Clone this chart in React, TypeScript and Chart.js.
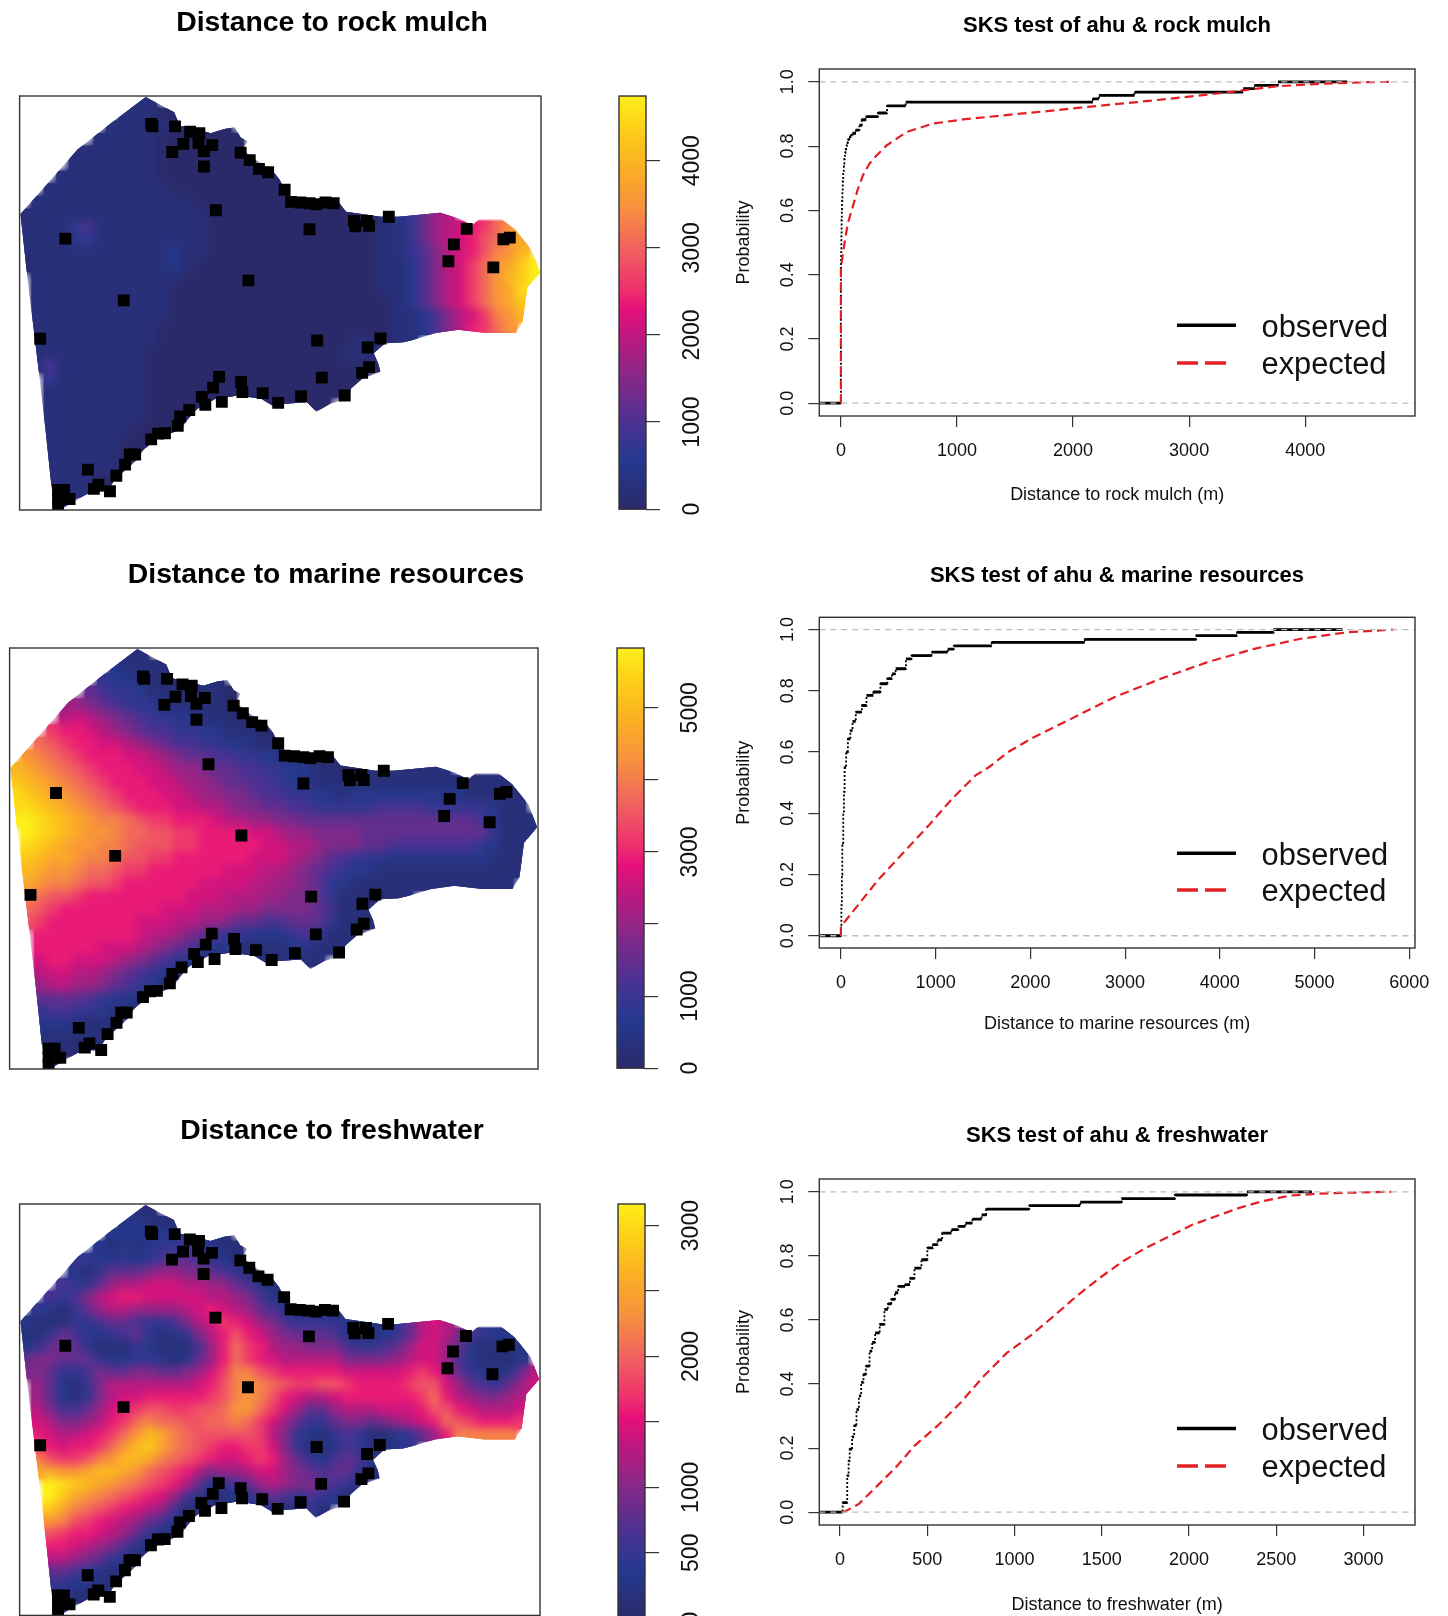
import React, { useEffect, useRef } from "react";
import { Chart, registerables } from "chart.js";

Chart.register(...registerables);

const FONT = "'Liberation Sans', Arial, sans-serif";
const INK = "#333333";

// ---------- colour bar ----------
const rampStops = [0, 0.118, 0.21, 0.33, 0.42, 0.483, 0.53, 0.63, 0.73, 0.835, 0.93, 1];
const rampColors = ["#2a2a6b", "#25398f", "#4c3192", "#8c2786", "#c0177f", "#e6107a", "#ee2f6e", "#f0625f", "#f7903f", "#fbb222", "#fdd317", "#fdee1a"];

// ---------- rasters: each character is a level 0..k (base 36), a twentieth of the colour range ----------
const gridCols = 42;
const gridRows = 33;
const rowStart = [9, 8, 7, 6, 4, 4, 3, 2, 1, 0, 0, 0, 0, 0, 1, 1, 1, 1, 1, 1, 1, 1, 2, 2, 2, 2, 2, 2, 2, 2, 2, 3, 3];

const rockRows = [
  "11",
  "11100",
  "1111100000",
  "111110000000",
  "11111110000000",
  "111111100000000",
  "111111110000000000",
  "11111111110000000000",
  "1111111111111000000000000",
  "1111111111" + "1111100000" + "0000000001" + "23578",
  "1111341111" + "1111100000" + "0000000001" + "135789abdf",
  "1111231111" + "1111100000" + "0000000001" + "135789acdf" + "g",
  "1111111111" + "1121100000" + "0000000001" + "134689acef" + "h",
  "0111111111" + "1121000000" + "0000000001" + "124689bdfg" + "ik",
  "111111111" + "1110000000" + "0000000001" + "124689bdfh" + "ik",
  "111111111" + "1100000000" + "0000000001" + "124689bdfg" + "j",
  "111111111" + "1100000000" + "0000000000" + "124689bdfg" + "i",
  "111111111" + "1100000000" + "0000000000" + "1124689bef" + "h",
  "111111111" + "1000000000" + "0000000000" + "112468abdf",
  "111111111" + "1000000000" + "0000000100" + "11",
  "111111111" + "0000000000" + "000000111",
  "141111111" + "0000000000" + "000000000",
  "31111111" + "0000000000" + "00000000",
  "11111111" + "0000000000" + "0000000",
  "11111111" + "0000000000" + "00000",
  "11111111" + "0000",
  "11111110" + "000",
  "111111000",
  "11111100",
  "1111110",
  "111100",
  "1110",
  "1",
];

const marineRows = [
  "11",
  "21111",
  "3221100011",
  "543321110110",
  "77654332111110",
  "898765433221110",
  "baa987654433221110",
  "dcbaa99876" + "5443322110",
  "fedcbaaa99" + "8765544332" + "21100",
  "hgfedcbaaa" + "9987765544" + "3322110011" + "11111",
  "ihgfedcbaa" + "a998776554" + "4322111111" + "1111111111",
  "jihgfedcba" + "aa99877665" + "4433221222" + "22222211111",
  "jjihgfedcb" + "aaa9988766" + "5544333334" + "44433333211",
  "kkjihgfeed" + "cbbaaa9887" + "7665555555" + "5555555421" + "11",
  "kjihgffed" + "dccbbaaaa9" + "9877666655" + "5555555531" + "11",
  "jihgffeed" + "cccbbaaaaa" + "9988766655" + "4444444321" + "1",
  "ihggfeedc" + "cbbaaaaaa9" + "9987654332" + "2222222211" + "1",
  "hgffeddcb" + "baaaaaa999" + "8876543221" + "1111111111" + "1",
  "gfeedccba" + "aaaaa99998" + "8776532111" + "1111111111",
  "edccbaaaa" + "aaaa999888" + "7766531100" + "11",
  "dcbaaaaaa" + "aa99988877" + "666654111",
  "cbaaaaaaa" + "9998877655" + "445553111",
  "aaaaaaaa" + "9887654332" + "22343111",
  "aaaaa999" + "8765432211" + "1122111",
  "9aa99987" + "6543211111" + "11111",
  "89988765" + "4321",
  "78877654" + "321",
  "555543221",
  "34433211",
  "2221111",
  "111111",
  "1100",
  "1",
];

const freshRows = [
  "11",
  "22111",
  "2222222321",
  "212123343211",
  "33223234554321",
  "213555677665431",
  "433578899988775421",
  "434689aa99" + "9998876421",
  "3213578877" + "7789a98754" + "21111",
  "2111334554" + "334689ba97" + "6433332112" + "35898",
  "1135422345" + "312368aca9" + "7655542112" + "3589864322",
  "2356531113" + "211147adba" + "8776664334" + "5799752111" + "2",
  "5665553223" + "321257adba" + "9888886666" + "7899742111" + "2",
  "6653346556" + "655679beec" + "baaaaa9999" + "9aba853212" + "58",
  "752136888" + "88889acefe" + "dcbbccbaaa" + "abcc975435" + "79",
  "752136899" + "aaaaabcefe" + "ca9889aaaa" + "aabda87667" + "8",
  "8644579ab" + "ccbbccdffd" + "b975578889" + "99acca9888" + "9",
  "986678abd" + "eddccddedb" + "9753356656" + "789adcbaaa" + "b",
  "a9889abdf" + "hgedcccccb" + "8632134311" + "2357aeeeee",
  "ba9aabdfh" + "igedcbaabb" + "9631124311" + "23",
  "ecbbcefhh" + "gedcba99ab" + "a75324542",
  "ggffghhgf" + "dcba867789" + "976545531",
  "kjihgfed" + "cba8523457" + "87665431",
  "kigfedcb" + "a974211224" + "5434321",
  "igedcba9" + "8741111112" + "21131",
  "fecba987" + "5421",
  "cbaa9875" + "321",
  "aa9876421",
  "88765321",
  "5543211",
  "332211",
  "2111",
  "1",
];

// ---------- coastline and ahu, in raster units (column, row) ----------
const coastX = [10.16, 11.16, 12.45, 12.89, 13.93, 15.4, 16.51, 17.33, 17.81, 18.36, 17.99, 18.91, 20.21, 20.95, 21.5, 22.05, 25.56, 26.3, 29.07, 30.55, 33.88, 35.35, 36.46, 37.01, 38.86, 39.97, 41.26, 41.93, 40.89, 40.52, 39.97, 37.57, 35.35, 33.51, 31.66, 30.92, 29.44, 28.52, 28.89, 29.07, 27.59, 26.67, 26.49, 25.01, 23.9, 23.16, 21.32, 20.58, 19.47, 17.62, 15.77, 14.3, 13.56, 13, 10.97, 9.86, 9.49, 8.57, 7.65, 7.09, 5.8, 4.32, 3.21, 2.77, 2.11, 1.55, 0.63, 0.07, 2.29, 4.69, 7.28];
const coastY = [0.08, 0.62, 1.29, 2.37, 2.58, 2.96, 2.63, 2.5, 3.31, 3.58, 4.25, 5.05, 5.73, 6.67, 7.74, 8.15, 8.28, 9.22, 9.62, 9.62, 9.3, 9.76, 10.3, 9.84, 9.84, 10.7, 12.31, 14.06, 15.27, 17.96, 18.9, 18.9, 18.63, 18.9, 19.44, 19.62, 19.7, 20.51, 21.32, 21.99, 22.53, 23.33, 24.14, 24.54, 25.16, 24.41, 24.54, 24.81, 24.14, 23.87, 24.14, 24.95, 25.75, 26.56, 27.37, 28.31, 28.98, 29.78, 30.59, 31.53, 31.53, 32.34, 33, 33, 26.83, 21.99, 14.46, 9.41, 6.94, 4.25, 2.23];

const ahuX = [10.6, 10.7, 12.52, 13.74, 14.48, 14.41, 15.52, 13.19, 12.3, 14.85, 14.85, 17.81, 18.54, 19.28, 20.02, 21.35, 21.87, 22.61, 23.35, 23.9, 24.64, 25.3, 15.81, 23.35, 26.93, 27.04, 27.96, 28.15, 29.74, 3.69, 36.02, 34.98, 38.97, 39.49, 34.54, 38.16, 18.43, 8.39, 1.66, 23.97, 29.07, 28.04, 28.15, 27.59, 24.34, 16.07, 17.84, 17.95, 15.59, 14.67, 14.96, 16.29, 19.58, 20.83, 22.68, 26.19, 13.67, 12.93, 12.74, 11.16, 11.71, 10.6, 8.87, 9.31, 8.5, 5.5, 7.79, 6.35, 5.98, 7.28, 3.1, 3.58, 3.1, 4.03, 3.1];
const ahuY = [2.23, 2.42, 2.42, 2.85, 2.96, 3.76, 3.92, 3.82, 4.46, 4.38, 5.62, 4.52, 5.11, 5.81, 6.08, 7.47, 8.44, 8.49, 8.55, 8.63, 8.49, 8.55, 9.11, 10.62, 9.95, 10.38, 9.95, 10.35, 9.62, 11.37, 10.59, 11.83, 11.42, 11.29, 13.17, 13.66, 14.7, 16.29, 19.35, 19.49, 19.33, 20.05, 21.61, 22.07, 22.45, 22.39, 22.8, 23.6, 23.25, 23.98, 24.62, 24.38, 23.68, 24.46, 23.92, 23.87, 25.03, 25.54, 26.29, 26.91, 26.88, 27.37, 28.58, 28.58, 29.38, 29.78, 30.27, 30.99, 31.32, 31.51, 31.4, 31.4, 32.07, 32.12, 32.66];

// ---------- ECDF series ----------
const rockObsX = [-186, 0, 2, 4, 6, 8, 10, 13, 16, 20, 25, 30, 35, 40, 45, 50, 60, 70, 80, 90, 100, 130, 160, 180, 219, 319, 398, 558, 2171, 2223, 2530, 3466, 3566, 3765, 4362];
const rockObsY = [0, 0.42, 0.47, 0.52, 0.57, 0.6, 0.63, 0.66, 0.69, 0.72, 0.74, 0.76, 0.78, 0.79, 0.8, 0.81, 0.82, 0.825, 0.83, 0.835, 0.84, 0.85, 0.865, 0.882, 0.892, 0.903, 0.925, 0.937, 0.947, 0.958, 0.968, 0.979, 0.989, 1, 1];
const rockExpX = [0, 0, 15, 32, 60, 106, 145, 190, 245, 307, 394, 566, 793, 1052, 1514, 1753, 2151, 2550, 2948, 3347, 3745, 4143, 4542, 4721];
const rockExpY = [0, 0.42, 0.46, 0.5, 0.56, 0.616, 0.665, 0.709, 0.745, 0.771, 0.802, 0.844, 0.87, 0.883, 0.9, 0.908, 0.923, 0.937, 0.952, 0.968, 0.986, 0.994, 0.999, 1];

const marineObsX = [-228, 0, 5, 10, 15, 25, 32, 39, 55, 74, 100, 123, 157, 221, 270, 343, 417, 490, 539, 578, 686, 745, 956, 1127, 1191, 1593, 2574, 3750, 4181, 4569, 5294];
const marineObsY = [0, 0.03, 0.1, 0.2, 0.3, 0.4, 0.47, 0.55, 0.6, 0.643, 0.67, 0.7, 0.73, 0.752, 0.785, 0.796, 0.823, 0.84, 0.855, 0.872, 0.904, 0.915, 0.926, 0.936, 0.947, 0.958, 0.968, 0.98, 0.991, 1, 1];
const marineExpX = [0, 0, 196, 392, 686, 931, 1176, 1422, 1569, 1765, 2010, 2402, 2892, 3382, 3873, 4363, 4853, 5343, 5833];
const marineExpY = [0, 0.03, 0.106, 0.182, 0.28, 0.362, 0.448, 0.524, 0.552, 0.6, 0.644, 0.704, 0.78, 0.84, 0.894, 0.937, 0.97, 0.991, 1];

const freshObsX = [-118, 16, 42, 50, 56, 70, 82, 95, 109, 122, 135, 149, 170, 185, 202, 228, 255, 275, 294, 315, 334, 374, 401, 427, 467, 501, 533, 560, 586, 639, 679, 719, 759, 812, 838, 1085, 1377, 1615, 1920, 2332, 2703];
const freshObsY = [0, 0.03, 0.114, 0.16, 0.197, 0.235, 0.27, 0.32, 0.363, 0.405, 0.43, 0.456, 0.503, 0.53, 0.56, 0.586, 0.633, 0.65, 0.664, 0.685, 0.705, 0.71, 0.73, 0.762, 0.788, 0.825, 0.835, 0.85, 0.871, 0.882, 0.892, 0.902, 0.915, 0.928, 0.946, 0.957, 0.968, 0.979, 0.99, 1, 1];
const freshExpX = [16, 29, 109, 215, 321, 427, 560, 692, 825, 958, 1090, 1223, 1355, 1488, 1621, 1753, 1886, 2019, 2151, 2284, 2416, 2576, 2735, 2894, 3159];
const freshExpY = [0, 0.002, 0.026, 0.083, 0.14, 0.207, 0.27, 0.342, 0.425, 0.498, 0.55, 0.611, 0.674, 0.731, 0.783, 0.825, 0.861, 0.897, 0.923, 0.949, 0.97, 0.988, 0.994, 0.997, 1];

// ---------- tick labels ----------
const probabilityTicks = [0, 0.2, 0.4, 0.6, 0.8, 1];
const rockXTicks = [0, 1000, 2000, 3000, 4000];
const marineXTicks = [0, 1000, 2000, 3000, 4000, 5000, 6000];
const freshXTicks = [0, 500, 1000, 1500, 2000, 2500, 3000];
const rockBarTicks = [0, 1000, 2000, 3000, 4000];
const rockBarLabels = [0, 1000, 2000, 3000, 4000];
const marineBarTicks = [0, 1000, 2000, 3000, 4000, 5000];
const marineBarLabels = [0, 1000, 3000, 5000];
const freshBarTicks = [0, 500, 1000, 1500, 2000, 2500, 3000];
const freshBarLabels = [0, 500, 1000, 2000, 3000];

// ---------- helpers ----------
const hexRgb = (h: string) => [1, 3, 5].map((i) => parseInt(h.slice(i, i + 2), 16));
function rampColor(f: number) {
  for (let i = 1; i < rampStops.length; i++) {
    if (f <= rampStops[i]) {
      const t = (f - rampStops[i - 1]) / (rampStops[i] - rampStops[i - 1]);
      const a = hexRgb(rampColors[i - 1]);
      const b = hexRgb(rampColors[i]);
      return `rgb(${a.map((v, k) => Math.round(v + (b[k] - v) * t)).join(",")})`;
    }
  }
  return rampColors[rampColors.length - 1];
}

const titleOpts = (text: string, size: number, canvasTop: number, centerY: number, boxTop: number) => {
  const lh = size * 1.2;
  const top = centerY - canvasTop - lh / 2;
  return {
    display: true,
    text,
    color: "#000",
    font: { family: FONT, size, weight: "bold" },
    padding: { top, bottom: boxTop - canvasTop - lh - top },
  };
};

const fixedTicks = (values: number[]) => (s: any) => {
  s.ticks = values.map((value) => ({ value }));
};

const spacerAxis = (position: string, width: number, extra: any = {}) => ({
  type: "linear",
  position,
  afterFit: (s: any) => {
    s.width = width;
  },
  ticks: { display: false },
  grid: { display: false },
  border: { display: false },
  ...extra,
});

const framePlugin = {
  id: "frame",
  afterDatasetsDraw(chart: any) {
    const { ctx, chartArea: a } = chart;
    ctx.save();
    ctx.strokeStyle = INK;
    ctx.lineWidth = 1.4;
    ctx.strokeRect(a.left, a.top, a.width, a.height);
    ctx.restore();
  },
};

const coastRaster = {
  id: "coastRaster",
  afterDatasetDraw(chart: any, args: any) {
    if (args.index !== 1) return;
    const { ctx, canvas, chartArea: a, scales } = chart;
    const off = document.createElement("canvas");
    off.width = canvas.width;
    off.height = canvas.height;
    off.getContext("2d")!.drawImage(canvas, 0, 0);
    ctx.save();
    ctx.clearRect(a.left, a.top, a.width, a.height);
    ctx.beginPath();
    coastX.forEach((v, i) => {
      const px = scales.x.getPixelForValue(v);
      const py = scales.y.getPixelForValue(coastY[i]);
      if (i === 0) ctx.moveTo(px, py);
      else ctx.lineTo(px, py);
    });
    ctx.closePath();
    ctx.clip();
    ctx.drawImage(off, 0, 0);
    ctx.filter = "blur(4px)";
    ctx.drawImage(off, 0, 0);
    ctx.drawImage(off, 0, 0);
    ctx.filter = "none";
    ctx.restore();
  },
};

function mapConfig(m: any) {
  const cells: any[] = [];
  const colors: string[] = [];
  m.rows.forEach((row: string, r: number) => {
    for (let i = 0; i < row.length; i++) {
      cells.push({ x: rowStart[r] + i + 0.5, y: r + 0.5 });
      colors.push(rampColor(parseInt(row[i], 36) / 20));
    }
  });
  return {
    type: "scatter",
    data: {
      datasets: [
        {
          label: "ahu",
          data: ahuX.map((x, i) => ({ x, y: ahuY[i] })),
          pointStyle: "rect",
          pointRadius: 8.4,
          pointBackgroundColor: "#000",
          pointBorderWidth: 0,
        },
        {
          label: m.title,
          data: cells,
          pointStyle: "rect",
          pointRadius: 9.6,
          pointBackgroundColor: colors,
          pointBorderWidth: 0,
        },
      ],
    },
    options: {
      animation: false,
      responsive: false,
      devicePixelRatio: 1,
      events: [],
      layout: { padding: { bottom: m.h + m.top - m.boxBottom } },
      plugins: {
        legend: { display: false },
        tooltip: { enabled: false },
        title: titleOpts(m.title, 28.3, m.top, m.titleY, m.boxTop),
      },
      scales: {
        x: { type: "linear", min: 0, max: gridCols, display: false },
        y: spacerAxis("left", m.boxLeft, { min: 0, max: gridRows, reverse: true }),
        spacer: spacerAxis("right", m.w - m.boxRight),
      },
    },
    plugins: [coastRaster, framePlugin],
  };
}

function colorbarConfig(c: any) {
  return {
    type: "bar",
    data: {
      labels: [c.name],
      datasets: [
        {
          data: [c.max],
          barPercentage: 1,
          categoryPercentage: 1,
          borderWidth: 0,
          backgroundColor: (ctx: any) => {
            const { chartArea: a, ctx: g } = ctx.chart;
            if (!a) return rampColors[0];
            const grad = g.createLinearGradient(0, a.bottom, 0, a.top);
            rampStops.forEach((s, i) => grad.addColorStop(s, rampColors[i]));
            return grad;
          },
        },
      ],
    },
    options: {
      animation: false,
      responsive: false,
      devicePixelRatio: 1,
      events: [],
      layout: { padding: { left: 4, top: 30, bottom: 20 } },
      plugins: { legend: { display: false }, tooltip: { enabled: false } },
      scales: {
        x: { display: false },
        y: {
          type: "linear",
          position: "right",
          min: 0,
          max: c.max,
          afterBuildTicks: fixedTicks(c.ticks),
          afterFit: (s: any) => {
            s.width = 70;
          },
          grid: { drawOnChartArea: false, tickLength: 14, color: INK, lineWidth: 1.2 },
          border: { display: false },
          ticks: {
            autoSkip: false,
            minRotation: 90,
            maxRotation: 90,
            crossAlign: "center",
            padding: 7,
            color: "#111",
            font: { family: FONT, size: 23 },
            callback: (v: number) => (c.labelled.includes(v) ? String(v) : ""),
          },
        },
      },
    },
    plugins: [framePlugin],
  };
}

function horizontals(xs: number[], ys: number[]) {
  const out: any[] = [];
  for (let i = 0; i < xs.length - 1; i++) {
    out.push({ x: xs[i], y: ys[i] }, { x: xs[i + 1], y: ys[i] }, { x: xs[i + 1], y: null });
  }
  return out;
}

function ecdfConfig(e: any) {
  const pts = (xs: number[], ys: number[]) => xs.map((x, i) => ({ x, y: ys[i] }));
  const guide = (y: number) => ({
    data: [{ x: e.xMin, y }, { x: e.xMax, y }],
    showLine: true,
    pointRadius: 0,
    borderColor: "#bdbdbd",
    borderWidth: 1.3,
    borderDash: [6, 5],
  });
  const legendPlugin = {
    id: "sksLegend",
    afterDatasetsDraw(chart: any) {
      const { ctx, chartArea: a } = chart;
      const lineL = a.right - 238;
      const textX = a.right - 153.5;
      ctx.save();
      ctx.font = `30.8px ${FONT}`;
      ctx.fillStyle = "#111";
      ctx.textBaseline = "middle";
      ctx.textAlign = "left";
      ctx.lineCap = "butt";
      ["observed", "expected"].forEach((name, i) => {
        const y = a.bottom + e.legendY[i];
        ctx.beginPath();
        ctx.moveTo(lineL, y);
        ctx.lineTo(lineL + (i ? 49 : 59), y);
        ctx.strokeStyle = i ? "#e31f26" : "#000";
        ctx.lineWidth = 3.5;
        ctx.setLineDash(i ? [21, 7] : []);
        ctx.stroke();
        ctx.fillText(name, textX, y + 3);
      });
      ctx.restore();
    },
  };
  return {
    type: "scatter",
    data: {
      datasets: [
        guide(0),
        guide(1),
        {
          label: "expected",
          data: pts(e.expX, e.expY),
          showLine: true,
          pointRadius: 0,
          borderColor: "#e31f26",
          borderWidth: 2.2,
          borderDash: [9, 5],
        },
        {
          label: "observed",
          data: horizontals(e.obsX, e.obsY),
          showLine: true,
          spanGaps: false,
          pointRadius: 0,
          borderColor: "#000",
          borderWidth: 2.8,
          borderCapStyle: "butt",
        },
        {
          label: "observed steps",
          data: pts(e.obsX, e.obsY),
          showLine: true,
          stepped: true,
          pointRadius: 0,
          borderColor: "#000",
          borderWidth: 1.8,
          borderDash: [2, 2],
        },
      ],
    },
    options: {
      animation: false,
      responsive: false,
      devicePixelRatio: 1,
      events: [],
      plugins: {
        legend: { display: false },
        tooltip: { enabled: false },
        title: titleOpts(e.title, 22, e.top, e.titleY, e.boxTop),
      },
      scales: {
        x: {
          type: "linear",
          min: e.xMin,
          max: e.xMax,
          afterBuildTicks: fixedTicks(e.xTicks),
          afterFit: (s: any) => {
            s.height = e.axisH;
          },
          grid: { drawOnChartArea: false, tickLength: 11, color: INK, lineWidth: 1.2 },
          border: { display: false },
          ticks: {
            autoSkip: false,
            maxRotation: 0,
            padding: 13,
            color: "#111",
            font: { family: FONT, size: 18 },
            callback: (v: number) => String(v),
          },
          title: { display: true, text: e.xTitle, color: "#111", padding: 0, font: { family: FONT, size: 18 } },
        },
        y: {
          type: "linear",
          position: "left",
          min: -0.04,
          max: 1.04,
          afterBuildTicks: fixedTicks(probabilityTicks),
          afterFit: (s: any) => {
            s.width = 99.3;
          },
          grid: { drawOnChartArea: false, tickLength: 11, color: INK, lineWidth: 1.2 },
          border: { display: false },
          ticks: {
            autoSkip: false,
            minRotation: 90,
            maxRotation: 90,
            crossAlign: "center",
            padding: 8,
            color: "#111",
            font: { family: FONT, size: 18 },
            callback: (v: number) => Number(v).toFixed(1),
          },
          title: { display: true, text: "Probability", color: "#111", padding: { top: 13, bottom: 0 }, font: { family: FONT, size: 18 } },
        },
        spacer: spacerAxis("right", 99),
      },
    },
    plugins: [legendPlugin, framePlugin],
  };
}

// ---------- panels ----------
const maps = [
  { title: "Distance to rock mulch", rows: rockRows, top: 0, w: 664, h: 520, titleY: 23.2, boxLeft: 19.6, boxRight: 541, boxTop: 96, boxBottom: 510 },
  { title: "Distance to marine resources", rows: marineRows, top: 540, w: 652, h: 540, titleY: 575, boxLeft: 9.3, boxRight: 538, boxTop: 648, boxBottom: 1069 },
  { title: "Distance to freshwater", rows: freshRows, top: 1095, w: 664, h: 530, titleY: 1131, boxLeft: 19.6, boxRight: 540, boxTop: 1204, boxBottom: 1619 },
];

const bars = [
  { name: "rock mulch", max: 4743, ticks: rockBarTicks, labelled: rockBarLabels, left: 619, boxTop: 96, boxBottom: 510 },
  { name: "marine resources", max: 5830, ticks: marineBarTicks, labelled: marineBarLabels, left: 617, boxTop: 648, boxBottom: 1069 },
  { name: "freshwater", max: 3165, ticks: freshBarTicks, labelled: freshBarLabels, left: 618, boxTop: 1204, boxBottom: 1619 },
];

const ecdfs = [
  { title: "SKS test of ahu & rock mulch", xTitle: "Distance to rock mulch (m)", obsX: rockObsX, obsY: rockObsY, expX: rockExpX, expY: rockExpY, xMin: -186, xMax: 4946, xTicks: rockXTicks, top: 0, titleY: 25.7, boxTop: 69, boxBottom: 416.4, axisH: 90, legendY: [-90.8, -53] },
  { title: "SKS test of ahu & marine resources", xTitle: "Distance to marine resources (m)", obsX: marineObsX, obsY: marineObsY, expX: marineExpX, expY: marineExpY, xMin: -228, xMax: 6060, xTicks: marineXTicks, top: 540, titleY: 575.5, boxTop: 617.3, boxBottom: 948, axisH: 87, legendY: [-94.7, -58] },
  { title: "SKS test of ahu & freshwater", xTitle: "Distance to freshwater (m)", obsX: freshObsX, obsY: freshObsY, expX: freshExpX, expY: freshExpY, xMin: -118, xMax: 3295, xTicks: freshXTicks, top: 1105, titleY: 1136, boxTop: 1179, boxBottom: 1525, axisH: 91, legendY: [-96.6, -59] },
];

function Panel({ x, y, w, h, make }: { x: number; y: number; w: number; h: number; make: () => any }) {
  const ref = useRef<HTMLCanvasElement>(null);
  useEffect(() => {
    const chart = new Chart(ref.current as HTMLCanvasElement, make());
    return () => chart.destroy();
  }, []);
  return <canvas ref={ref} width={w} height={h} style={{ position: "absolute", left: x, top: y, width: w, height: h }} />;
}

export default function App() {
  return (
    <div style={{ position: "absolute", left: 0, top: 0, width: 1448, height: 1616, overflow: "hidden", background: "#fff" }}>
      {maps.map((m) => (
        <Panel key={m.title} x={0} y={m.top} w={m.w} h={m.h} make={() => mapConfig(m)} />
      ))}
      {bars.map((c) => (
        <Panel
          key={c.name}
          x={c.left - 4}
          y={c.boxTop - 30}
          w={101}
          h={c.boxBottom - c.boxTop + 50}
          make={() => colorbarConfig(c)}
        />
      ))}
      {ecdfs.map((e) => (
        <Panel key={e.title} x={720} y={e.top} w={794} h={e.boxBottom + e.axisH - e.top} make={() => ecdfConfig(e)} />
      ))}
    </div>
  );
}
